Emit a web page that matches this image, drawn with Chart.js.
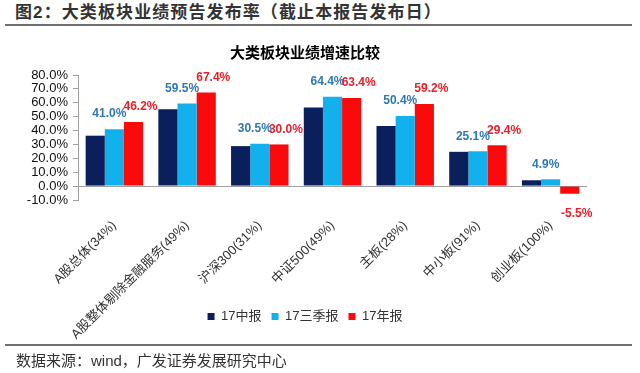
<!DOCTYPE html>
<html lang="zh-CN">

<head>
    <meta charset="UTF-8">
    <title>大类板块业绩增速比较</title>
    <script src="https://cdn.jsdelivr.net/npm/chart.js"></script>
    <style>
        body { margin: 0; background: #fff; font-family: "Liberation Sans", "Noto Sans CJK SC", sans-serif; }
        .page { position: relative; width: 640px; height: 373px; overflow: hidden; }
        .head { position: absolute; left: 15px; top: 2px; font-size: 17px; font-weight: bold; color: #333; line-height: 22px; letter-spacing: 1.1px; white-space: nowrap; }
        .rule { position: absolute; left: 5px; width: 627px; height: 2px; background: #6e6e6e; }
        .foot { position: absolute; left: 16px; top: 351px; font-size: 15px; color: #333; line-height: 20px; white-space: nowrap; }
        #box { position: absolute; left: 0; top: 0; width: 640px; height: 373px; }
    </style>
</head>

<body>
    <div class="page">
        <div class="head">图2：大类板块业绩预告发布率（截止本报告发布日）</div>
        <div class="rule" style="top:24px"></div>
        <div id="box"><canvas id="chart"></canvas></div>
        <div class="rule" style="top:344px"></div>
        <div class="foot">数据来源：wind，广发证券发展研究中心</div>
    </div>
    <script>
        // values, in percent
        const categories = ['A股总体(34%)', 'A股整体剔除金融服务(49%)', '沪深300(31%)', '中证500(49%)', '主板(28%)', '中小板(91%)', '创业板(100%)'];
        const midYear = [36.3, 55.3, 28.8, 56.6, 43.2, 24.7, 4.2];
        const thirdQuarter = [41.0, 59.5, 30.5, 64.4, 50.4, 25.1, 4.9];
        const fullYear = [46.2, 67.4, 30.0, 63.4, 59.2, 29.4, -5.5];
        const seriesNames = ['17中报', '17三季报', '17年报'];

        const fontFamily = '"Liberation Sans", "Noto Sans CJK SC", sans-serif';

        // labels over the 17三季报 and 17年报 bars
        const barLabels = {
            id: 'barLabels',
            afterDatasetsDraw(chart) {
                const ctx = chart.ctx;
                const styles = { 1: { color: '#2f77b5', dx: -5 }, 2: { color: '#e8202a', dx: 7 } };
                ctx.save();
                ctx.font = 'bold 12px ' + fontFamily;
                ctx.textAlign = 'center';
                ctx.textBaseline = 'middle';
                [1, 2].forEach(i => {
                    const meta = chart.getDatasetMeta(i);
                    const values = chart.data.datasets[i].data;
                    ctx.fillStyle = styles[i].color;
                    meta.data.forEach((bar, j) => {
                        const v = values[j];
                        const y = v >= 0 ? bar.y - 15 : bar.y + 20;
                        ctx.fillText(v.toFixed(1) + '%', bar.x + styles[i].dx, y);
                    });
                });
                ctx.restore();
            }
        };

        new Chart(document.getElementById('chart'), {
            type: 'bar',
            data: {
                labels: categories,
                datasets: [
                    { label: seriesNames[0], data: midYear, backgroundColor: '#0a1f5c' },
                    { label: seriesNames[1], data: thirdQuarter, backgroundColor: '#12b0ec' },
                    { label: seriesNames[2], data: fullYear, backgroundColor: '#fa0a0a' }
                ]
            },
            options: {
                responsive: true,
                maintainAspectRatio: false,
                animation: false,
                layout: { padding: { top: 0, left: 23, right: 53, bottom: 40 } },
                datasets: { bar: { barPercentage: 1, categoryPercentage: 0.79 } },
                scales: {
                    x: {
                        grid: { display: false },
                        border: { display: false },
                        ticks: {
                            maxRotation: 45,
                            minRotation: 45,
                            autoSkip: false,
                            padding: 10,
                            color: '#333',
                            font: { size: 13, family: fontFamily }
                        },
                        afterFit(scale) {
                            scale.height = 100;
                            // long rotated names run below the axis box, do not cut them
                            scale._computeLabelArea = () => undefined;
                        }
                    },
                    y: {
                        min: -10,
                        max: 80,
                        border: { display: true, color: '#a0a0a0' },
                        grid: {
                            drawTicks: true,
                            tickLength: 5,
                            tickColor: '#a0a0a0',
                            color: c => (c.tick && c.tick.value === 0) ? '#a0a0a0' : 'rgba(0,0,0,0)'
                        },
                        ticks: {
                            stepSize: 10,
                            autoSkip: false,
                            padding: 5,
                            color: '#111',
                            font: { size: 13, family: fontFamily },
                            callback: v => v.toFixed(1) + '%'
                        },
                        afterFit(scale) { scale.width = 55; }
                    }
                },
                plugins: {
                    title: {
                        display: true,
                        text: '大类板块业绩增速比较',
                        color: '#000',
                        font: { size: 15, weight: 'bold', family: fontFamily },
                        padding: { top: 45, bottom: 12 }
                    },
                    legend: {
                        position: 'bottom',
                        labels: {
                            boxWidth: 7,
                            boxHeight: 7,
                            padding: 10,
                            color: '#333',
                            font: { size: 13, family: fontFamily }
                        }
                    },
                    tooltip: { enabled: false }
                }
            },
            plugins: [barLabels]
        });
    </script>
</body>

</html>
